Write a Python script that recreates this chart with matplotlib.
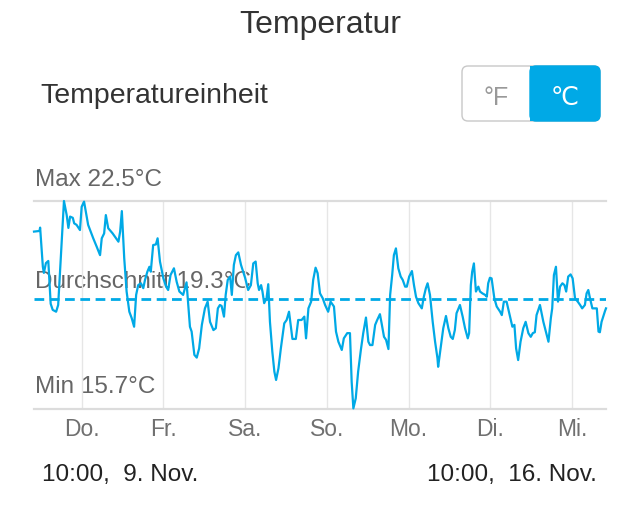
import matplotlib
matplotlib.use("Agg")
import matplotlib.pyplot as plt
from matplotlib.patches import FancyBboxPatch, Rectangle
from matplotlib.transforms import offset_copy

plt.rcParams['font.family'] = ['Liberation Sans', 'DejaVu Sans']

# Stunden seit Do. 10:00, 9. Nov. und Temperatur in °C
hours = [0, 1.6, 1.8, 2.6, 2.9, 3.5, 4.2, 4.9, 5.5, 6.5, 7.1, 7.8, 8.8, 9.6, 10.1, 10.6,
         11.4, 11.8, 12.5, 13.5, 14.0, 14.7, 15.9, 17.4, 18.4, 19.4, 19.9, 20.6, 21.1, 21.8,
         23.1, 24.1, 24.8, 25.3, 25.8, 26.5, 27.2, 28.0, 28.7, 29.4, 30.0, 30.6, 31.4, 32.1,
         32.6, 33.3, 33.9, 34.3, 35.0, 35.8, 36.3, 37.0, 38.0, 38.8, 39.4, 40.1, 41.1, 41.9,
         42.7, 43.8, 44.8, 45.3, 45.8, 46.3, 47.1, 47.8, 48.5, 49.3, 50.2, 51.0, 51.7, 52.7,
         53.4, 54.0, 54.6, 55.1, 55.8, 56.3, 56.9, 57.6, 58.1, 58.7, 59.3, 60.0, 60.8, 62.0,
         62.9, 63.7, 64.4, 65.1, 65.7, 66.1, 66.7, 67.1, 67.6, 68.3, 68.8, 69.3, 70.0, 70.6,
         71.1, 71.8, 72.5, 73.5, 74.2, 74.9, 75.9, 76.9, 77.6, 78.6, 79.4, 79.9, 80.6, 81.4,
         82.0, 82.7, 83.3, 84.0, 84.8, 85.5, 86.4, 87.1, 88.1, 88.7, 89.4, 90.4, 91.0, 92.0,
         92.8, 93.3, 93.8, 94.5, 95.2, 96.0, 96.7, 97.5, 98.2, 98.7, 99.4, 100.2, 100.8, 101.6,
         102.1, 102.8, 103.4, 104.1, 104.6, 105.2, 105.7, 106.3, 107.0, 107.7, 108.3, 109.0,
         109.5, 110.2, 111.0, 111.6, 112.2, 112.9, 113.9, 114.5, 115.1, 115.6, 116.3, 117.1,
         117.8, 118.5, 118.7, 119.4, 120.2, 121.0, 121.7, 122.4, 123.0, 123.6, 124.1, 125.1,
         125.9, 126.6, 127.4, 127.8, 128.3, 128.7, 129.2, 129.8, 130.5, 131.0, 131.7, 132.5,
         133.0, 133.4, 133.9, 134.4, 135.2, 135.9, 136.9, 137.4, 138.0, 138.8, 139.8, 140.5,
         141.1, 141.6, 142.2, 142.9, 143.7, 144.4, 145.2, 145.9, 146.5, 147.1, 147.6, 148.6,
         149.6, 150.6, 151.1, 151.8, 152.2, 152.7, 153.3, 153.9, 154.5, 155.2, 155.8, 156.3,
         156.9, 157.6, 158.2, 158.9, 159.7, 160.4, 161.0, 161.8, 162.3, 162.8, 163.3, 164.0,
         165.3, 165.8, 166.2, 166.7, 167.7, 168.0]
temps = [21.50, 21.52, 21.63, 20.35, 20.15, 20.47, 20.54, 19.14, 18.94, 18.88, 19.10, 20.52,
         22.50, 22.04, 21.62, 21.99, 21.95, 21.77, 21.72, 21.55, 22.31, 22.48, 21.72, 21.28,
         21.01, 20.73, 21.28, 21.44, 22.04, 21.61, 21.44, 21.28, 21.17, 21.50, 22.17, 20.63,
         19.54, 18.88, 18.67, 18.39, 19.43, 19.75, 19.81, 19.65, 19.92, 20.19, 20.35, 20.19,
         21.06, 21.08, 21.28, 20.52, 19.97, 19.70, 19.59, 20.08, 20.30, 19.86, 19.54, 19.43,
         19.84, 19.10, 18.39, 18.23, 17.47, 17.38, 17.68, 18.45, 18.99, 19.21, 18.55, 18.28,
         18.34, 18.99, 19.10, 19.07, 18.72, 19.43, 19.92, 20.03, 19.43, 20.41, 20.73, 20.82,
         20.41, 19.99, 19.59, 19.75, 20.46, 20.52, 19.81, 19.59, 19.75, 19.54, 19.16, 19.32,
         19.78, 18.55, 17.57, 16.92, 16.65, 17.03, 17.68, 18.50, 18.61, 18.88, 17.99, 17.99,
         18.61, 18.61, 18.72, 18.01, 18.99, 19.21, 19.92, 20.32, 20.14, 19.48, 19.32, 19.10,
         18.88, 19.21, 19.05, 18.23, 17.90, 17.63, 18.01, 18.18, 18.18, 16.59, 15.72, 16.05,
         16.92, 17.63, 18.18, 18.69, 17.90, 17.79, 17.79, 18.45, 18.61, 18.80, 18.50, 18.06,
         17.96, 17.66, 19.43, 20.08, 20.73, 20.95, 20.30, 20.03, 19.92, 19.70, 19.70, 20.03,
         20.21, 19.75, 19.37, 19.16, 18.99, 19.37, 19.65, 19.81, 19.43, 18.55, 17.90, 17.36,
         17.08, 17.68, 18.34, 18.74, 18.34, 18.06, 17.99, 18.28, 18.83, 19.10, 18.72, 18.34,
         18.01, 18.18, 19.75, 20.19, 20.46, 19.54, 19.70, 19.54, 19.48, 19.43, 19.37, 19.81,
         19.99, 19.97, 19.32, 19.05, 18.88, 18.77, 19.21, 19.21, 18.72, 18.39, 18.45, 17.68,
         17.30, 17.90, 18.34, 18.55, 18.18, 18.06, 18.18, 18.21, 18.77, 19.10, 18.55, 18.12,
         17.90, 18.67, 18.99, 20.08, 20.35, 19.21, 19.70, 19.81, 19.75, 19.54, 20.03, 20.10,
         19.97, 19.32, 19.21, 19.10, 18.99, 19.10, 19.48, 19.59, 19.32, 18.99, 18.99, 18.23,
         18.21, 18.55, 18.90, 18.99]

t_max = 22.5
t_min = 15.7
t_avg = 19.3
total_hours = 168
day_ticks = [14, 38, 62, 86, 110, 134, 158]
day_labels = ['Do.', 'Fr.', 'Sa.', 'So.', 'Mo.', 'Di.', 'Mi.']
start_label = '10:00,  9. Nov.'
end_label = '10:00,  16. Nov.'

blue = '#00A9E6'
W, H = 640, 505

fig = plt.figure(figsize=(6.4, 5.05), dpi=100)

# Hintergrund-Ebene in Pixelkoordinaten für Texte und Schalter
bg = fig.add_axes([0, 0, 1, 1])
bg.set_xlim(0, W)
bg.set_ylim(H, 0)
bg.axis('off')

bg.text(320, 33, 'Temperatur', ha='center', va='baseline', fontsize=23, color='#333333')
bg.text(40, 103, 'Temperatureinheit', ha='left', va='baseline', fontsize=20.5, color='#333333')

# Segment-Schalter °F / ℃
box = FancyBboxPatch((462, 66), 138, 55, boxstyle='round,pad=0,rounding_size=6',
                     facecolor='white', edgecolor='#c8c8c8', linewidth=1.0)
bg.add_patch(box)
blue_box = FancyBboxPatch((530, 66), 70, 55, boxstyle='round,pad=0,rounding_size=6',
                          facecolor=blue, edgecolor=blue, linewidth=1.0)
bg.add_patch(blue_box)
bg.add_patch(Rectangle((530, 66), 10, 55, facecolor=blue, edgecolor='none'))
bg.text(496, 105, '°F', ha='center', va='baseline', fontsize=18, color='#999999')
bg.text(565, 105, '℃', ha='center', va='baseline', fontsize=18, color='white',
        family=['DejaVu Sans', 'Liberation Sans'])

# Diagramm
ax = fig.add_axes([34 / W, 1 - 409 / H, 572 / W, 208 / H])
ax.set_xlim(0, total_hours)
ax.set_ylim(t_min, t_max)
ax.axis('off')

for d in day_ticks:
    ax.axvline(d, color='#e6e6e6', linewidth=1.0, zorder=1)
ax.axhline(t_max, color='#dcdcdc', linewidth=1.6, zorder=1, clip_on=False)
ax.axhline(t_min, color='#dcdcdc', linewidth=1.6, zorder=1, clip_on=False)

ax.plot(hours, temps, color=blue, linewidth=1.6, zorder=3, clip_on=False)
ax.axhline(t_avg, color=blue, linewidth=2.0, linestyle=(0, (3.5, 2)), zorder=3)

# Wochentage unter der Achse
day_trans = offset_copy(ax.get_xaxis_transform(), fig=fig, y=-27, units='dots')
for d, lab in zip(day_ticks, day_labels):
    ax.text(d, 0, lab, transform=day_trans, ha='center', va='baseline',
            fontsize=16.5, color='#707070', clip_on=False)

bg.text(35, 186.5, f'Max {t_max}°C', ha='left', va='baseline', fontsize=17.5, color='#666666')
bg.text(35, 287.5, f'Durchschnitt {t_avg}°C', ha='left', va='baseline', fontsize=17.5,
        color='#666666', zorder=2)
bg.text(35, 393, f'Min {t_min}°C', ha='left', va='baseline', fontsize=17.5, color='#666666')

bg.text(42, 481.5, start_label, ha='left', va='baseline', fontsize=17.5, color='#222222')
bg.text(597, 481.5, end_label, ha='right', va='baseline', fontsize=17.5, color='#222222')

fig.savefig('out.png', dpi=100)
